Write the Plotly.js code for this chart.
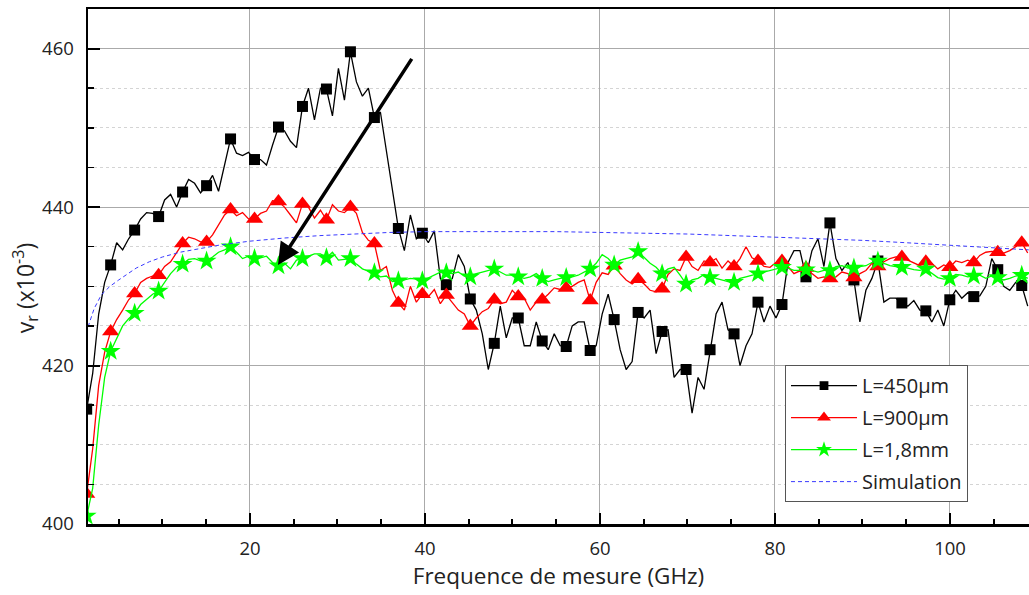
<!DOCTYPE html>
<html><head><meta charset="utf-8">
<script src="https://cdn.plot.ly/plotly-3.0.1.min.js"></script>
<style>html,body{margin:0;padding:0;background:#fff}#chart{width:1029px;height:595px}</style>
</head><body><div id="chart"></div>
<script>
// Frequency sweep grid (GHz): first point and step of the measurement
const freqStart = 1.34;
const freqStep = 0.685;
const markerEvery = 4;

// v_r (x10^-3) for L = 450 µm
const v450 = [
 414.5,419.0,426.5,430.5,432.7,435.5,434.6,436.0,437.1,438.5,
 439.3,439.2,438.8,440.9,441.6,440.0,441.9,443.5,443.0,441.8,
 442.7,444.0,442.0,445.5,448.6,446.8,446.5,446.9,446.0,446.0,
 445.3,447.8,450.1,449.6,448.3,447.5,452.7,455.0,451.0,455.0,
 454.9,451.5,457.5,453.5,459.6,455.8,454.0,455.0,451.3,452.0,
 447.0,442.0,437.3,434.5,439.0,436.0,436.7,435.5,437.0,431.0,
 430.2,431.0,434.0,432.5,428.4,427.0,424.0,419.5,422.8,427.5,
 423.5,426.0,426.0,422.5,422.5,425.5,423.1,422.0,424.0,422.5,
 422.4,425.0,425.5,425.5,421.9,422.5,426.5,429.0,425.8,422.0,
 419.5,420.5,426.7,426.0,427.0,421.5,424.3,424.5,418.5,419.5,
 419.5,414.0,418.5,417.0,422.0,426.5,428.0,424.5,424.0,420.0,
 422.5,424.0,428.0,425.5,427.5,426.0,427.7,433.0,434.5,434.5,
 431.2,434.5,436.0,432.5,438.0,433.5,432.0,433.0,430.8,425.5,
 429.5,431.0,433.2,428.0,428.5,428.5,427.9,427.5,428.2,427.0,
 426.9,425.5,427.0,425.0,428.3,429.5,428.5,429.2,428.7,428.8,
 430.0,433.5,432.1,430.0,429.5,430.5,430.1,427.5
];
// v_r (x10^-3) for L = 900 µm
const v900 = [
 403.8,409.5,417.5,421.7,424.3,425.8,427.0,428.3,429.1,430.5,
 431.0,431.3,431.4,432.5,433.1,434.3,435.4,436.2,436.0,435.6,
 435.6,436.5,437.8,439.0,439.7,438.9,439.3,438.5,438.5,439.2,
 439.5,440.8,440.7,440.0,439.0,438.0,440.4,440.0,438.6,439.6,
 438.4,440.3,439.5,439.3,440.0,439.2,436.8,435.8,435.4,432.0,
 432.5,429.5,427.9,427.0,430.0,428.0,429.0,428.7,429.6,427.8,
 428.9,428.0,427.0,426.5,425.0,426.0,426.8,427.2,428.3,427.8,
 428.0,429.5,428.7,428.5,427.0,428.0,428.3,429.0,429.8,429.6,
 429.8,430.0,430.5,430.8,428.2,430.5,431.7,431.5,432.6,431.6,
 430.8,430.3,430.9,430.3,429.5,429.3,429.7,431.5,432.2,432.0,
 433.7,432.5,432.0,433.2,433.0,433.5,432.3,433.2,432.5,433.5,
 435.0,433.6,433.2,432.5,432.4,433.0,433.2,432.5,431.6,432.0,
 432.3,431.6,431.0,431.2,431.0,431.2,431.8,431.6,431.1,431.6,
 432.0,432.9,432.5,433.1,433.5,433.7,433.7,433.3,432.9,432.6,
 433.1,432.9,432.2,432.7,432.4,433.2,433.0,433.3,433.0,433.9,
 434.3,434.4,434.3,434.2,434.5,435.0,435.5,434.2
];
// v_r (x10^-3) for L = 1,8 mm
const v1800 = [
 401.0,404.5,412.5,418.5,421.8,423.5,425.0,425.9,426.6,427.7,
 428.4,429.0,429.4,430.5,431.6,432.4,432.8,433.4,433.5,433.2,
 433.2,433.7,434.3,434.6,435.0,434.3,433.5,433.8,433.5,433.6,
 433.8,433.0,432.6,432.9,432.2,433.3,433.5,433.8,434.1,434.1,
 433.6,434.3,433.3,433.4,433.5,432.8,432.2,431.9,431.7,431.2,
 431.3,430.6,430.7,430.8,431.0,430.9,430.7,431.1,431.5,431.8,
 431.7,431.6,431.8,431.3,431.2,431.6,431.8,432.0,432.2,431.8,
 431.4,431.4,431.2,431.0,431.2,431.6,431.0,430.6,430.8,431.0,
 431.1,431.2,431.4,431.8,432.2,432.9,434.0,433.5,432.7,433.3,
 433.5,433.7,434.4,433.7,432.9,432.4,431.6,432.2,432.4,431.4,
 430.3,430.8,431.0,431.5,431.1,431.0,430.8,430.6,430.5,431.0,
 431.2,431.4,431.6,431.8,432.0,432.2,432.4,432.3,432.0,432.0,
 432.1,432.0,431.8,432.0,432.0,432.5,432.6,432.3,432.3,432.5,
 432.6,433.0,433.2,432.9,432.6,432.5,432.4,432.3,432.1,432.0,
 432.2,431.6,431.1,430.9,431.0,431.5,431.4,431.2,431.3,431.4,
 431.0,431.3,431.1,430.8,431.0,431.3,431.4,431.0
];
// Simulation curve
const simFreq = [1.5,2.2,3.0,4.0,5.0,6.0,7.0,8.5,10,12,14,16.5,20,24,28,32,36,40,45,50,55,60,65,70,75,80,85,90,95,100,105,109];
const simVal  = [424.9,427.2,428.9,430.0,430.8,431.6,432.3,433.1,433.7,434.3,434.7,435.2,435.7,436.1,436.4,436.6,436.8,436.9,436.9,436.9,436.9,436.8,436.7,436.6,436.4,436.2,436.0,435.8,435.5,435.2,434.9,434.6];

const seriesNames = ['L=450µm', 'L=900µm', 'L=1,8mm', 'Simulation'];
const xTitle = 'Frequence de mesure (GHz)';
const yTitle = 'v<sub>r</sub> (x10<sup>-3</sup>)';
// Arrow annotation (data coordinates): tail and head
const arrowTail = [38.6, 458.9];
const arrowHead = [23.2, 432.7];

const freq = v450.map((_, i) => +(freqStart + freqStep * i).toFixed(3));
const pick = arr => arr.filter((_, i) => i % markerEvery === 0);

const FONT = 'Open Sans, Segoe UI, Arial, sans-serif';
const styles = [
  {vals: v450,  color: '#000000', symbol: 'square',      size: 11, width: 1.3},
  {vals: v900,  color: '#ff0000', symbol: 'triangle-up', size: 15, width: 1.3},
  {vals: v1800, color: '#00ff00', symbol: 'star',        size: 15, width: 1.3}
];

const data = [];
styles.forEach(s => {
  data.push({x: freq, y: s.vals, mode: 'lines', line: {color: s.color, width: s.width}, showlegend: false, hoverinfo: 'skip'});
  data.push({x: pick(freq), y: pick(s.vals), mode: 'markers', marker: {symbol: s.symbol, size: s.size, color: s.color, line: {width: 0}}, showlegend: false});
});
styles.forEach((s, k) => {
  data.push({x: [null], y: [null], mode: 'lines+markers', name: seriesNames[k], legendgroup: 'g' + k,
    line: {color: s.color, width: s.width}, marker: {symbol: s.symbol, size: s.size * 0.8, color: s.color}});
});
data.push({x: simFreq, y: simVal, mode: 'lines', name: seriesNames[3], legendgroup: 'g3',
  line: {color: '#3a3aff', width: 1, dash: '4px,3px'}});

const layout = {
  width: 1029, height: 595,
  margin: {l: 88, r: 0, t: 9, b: 71},
  paper_bgcolor: '#fff', plot_bgcolor: '#fff',
  font: {family: FONT, size: 18, color: '#222'},
  showlegend: true,
  legend: {x: 0.7407, y: 0.3085, xanchor: 'left', yanchor: 'top', bgcolor: '#fff', bordercolor: '#555', borderwidth: 1,
    font: {family: FONT, size: 20, color: '#222'}, itemwidth: 66, traceorder: 'grouped', tracegroupgap: 3},
  xaxis: {
    range: [1.49, 109.03], tick0: 0, dtick: 20, ticks: 'inside', ticklen: 11, tickwidth: 2, tickcolor: '#000',
    showline: true, linewidth: 2.5, linecolor: '#000', mirror: true,
    showgrid: true, gridcolor: '#aaaaaa', gridwidth: 1, zeroline: false,
    ticklabelstandoff: 6, tickfont: {family: FONT, size: 18.5, color: '#222'},
    minor: {dtick: 5, tick0: 0, ticks: 'inside', ticklen: 5, tickwidth: 2, tickcolor: '#000', showgrid: false},
    title: {text: xTitle, font: {family: FONT, size: 22.5, color: '#222'}, standoff: 10}
  },
  yaxis: {
    range: [400, 465], tick0: 400, dtick: 20, ticks: 'inside', ticklen: 12, tickwidth: 2, tickcolor: '#000',
    showline: true, linewidth: 2.5, linecolor: '#000', mirror: false,
    showgrid: true, gridcolor: '#aaaaaa', gridwidth: 1, zeroline: false,
    ticklabelstandoff: 8, tickfont: {family: FONT, size: 18.5, color: '#222'},
    minor: {dtick: 5, tick0: 400, ticks: 'inside', ticklen: 6, tickwidth: 1.5, tickcolor: '#000', showgrid: true, gridcolor: '#d4d4d4', griddash: 'dot', gridwidth: 1}
  },
  annotations: [{
    xref: 'x', yref: 'y', axref: 'x', ayref: 'y',
    x: arrowHead[0], y: arrowHead[1], ax: arrowTail[0], ay: arrowTail[1],
    text: '', showarrow: true, arrowhead: 2, arrowsize: 1.25, arrowwidth: 3.5, arrowcolor: '#000'
  }, {
    xref: 'paper', yref: 'paper', x: 0, y: 0.458, xshift: -63, xanchor: 'center', yanchor: 'middle',
    textangle: -90, showarrow: false, text: yTitle, font: {family: FONT, size: 23, color: '#222'}
  }]
};

Plotly.newPlot('chart', data, layout, {staticPlot: true, displayModeBar: false});
</script>
</body></html>
